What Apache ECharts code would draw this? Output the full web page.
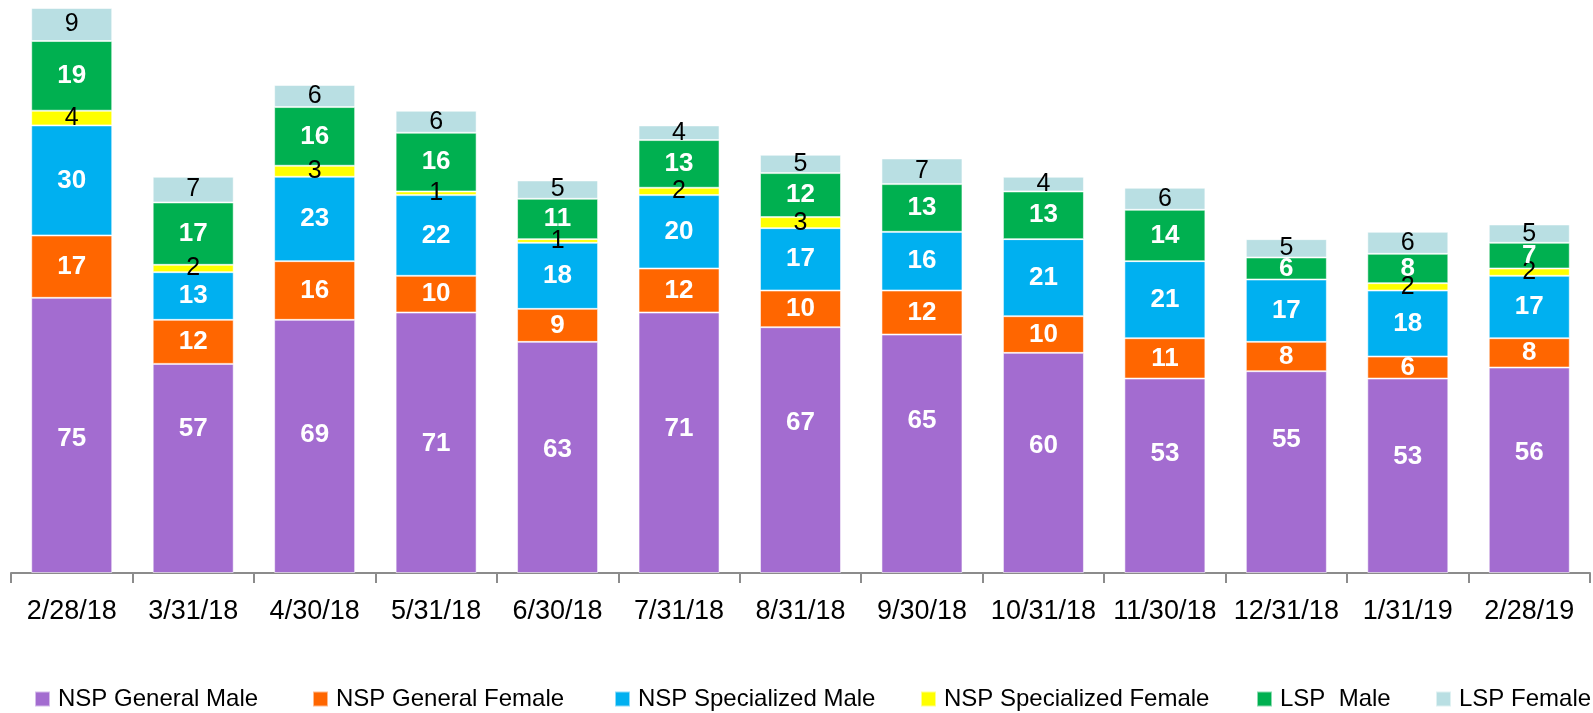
<!DOCTYPE html>
<html>
<head>
<meta charset="utf-8">
<script src="https://cdn.jsdelivr.net/npm/echarts@6/dist/echarts.min.js"></script>
<style>
  html, body { margin: 0; padding: 0; background: #fff; }
  #chart { width: 1593px; height: 713px; }
</style>
</head>
<body>
<div id="chart"></div>
<script>
// Monthly counts, stacked by program / gender
const dates = ["2/28/18", "3/31/18", "4/30/18", "5/31/18", "6/30/18", "7/31/18", "8/31/18",
  "9/30/18", "10/31/18", "11/30/18", "12/31/18", "1/31/19", "2/28/19"];
const nspGeneralMale = [75, 57, 69, 71, 63, 71, 67, 65, 60, 53, 55, 53, 56];
const nspGeneralFemale = [17, 12, 16, 10, 9, 12, 10, 12, 10, 11, 8, 6, 8];
const nspSpecializedMale = [30, 13, 23, 22, 18, 20, 17, 16, 21, 21, 17, 18, 17];
const nspSpecializedFemale = [4, 2, 3, 1, 1, 2, 3, 0, 0, 0, 0, 2, 2];
const lspMale = [19, 17, 16, 16, 11, 13, 12, 13, 13, 14, 6, 8, 7];
const lspFemale = [9, 7, 6, 6, 5, 4, 5, 7, 4, 6, 5, 6, 5];

const FONT = "'Liberation Sans', Arial, sans-serif";

// the purple labels were hand-dragged in the original; vertical nudge in px
const purpleLabelNudge = [3, -40, -12, 1, -8, -14, -27, -33, -17, -22, -32, -19, -17];

// name, values, fill, label colour, bold label
const layers = [
  ["NSP General Male", nspGeneralMale, "#A36CD0", "#fff", true],
  ["NSP General Female", nspGeneralFemale, "#FF6600", "#fff", true],
  ["NSP Specialized Male", nspSpecializedMale, "#00B0F0", "#fff", true],
  ["NSP Specialized Female", nspSpecializedFemale, "#FFFF00", "#000", false],
  ["LSP  Male", lspMale, "#00B050", "#fff", true],
  ["LSP Female", lspFemale, "#B9DFE3", "#000", false],
];
// legend entries are spread unevenly in the original, so each gets its own spot
const legendLeft = [29, 307, 609, 915, 1251, 1430];

const chart = echarts.init(document.getElementById("chart"), null, { renderer: "canvas" });

chart.setOption({
  animation: false,
  textStyle: { fontFamily: FONT },
  grid: { left: 11, right: 3, top: 8, bottom: 140, containLabel: false },
  legend: layers.map((l, i) => ({
    top: 682,
    left: legendLeft[i],
    itemWidth: 15,
    itemHeight: 15,
    icon: "rect",
    textStyle: { fontSize: 24, color: "#000", fontFamily: FONT, padding: [0, 0, 0, 3] },
    data: [l[0]],
  })),
  xAxis: {
    type: "category",
    data: dates,
    axisLine: { lineStyle: { color: "#8c8c8c", width: 2 } },
    axisTick: { show: true, length: 10, lineStyle: { color: "#8c8c8c", width: 2 } },
    axisLabel: { color: "#000", fontSize: 27, margin: 25, interval: 0, fontFamily: FONT },
  },
  yAxis: {
    type: "value",
    min: 0,
    max: 154,
    show: false,
    splitLine: { show: false },
  },
  series: layers.map(([name, values, color, labelColor, bold], si) => ({
    name,
    type: "bar",
    stack: "total",
    barWidth: 81,
    data: values.map((v, i) =>
      si === 0 ? { value: v, label: { offset: [0, purpleLabelNudge[i]] } } : v),
    itemStyle: { color, borderColor: "rgba(255,255,255,0.55)", borderWidth: 1 },
    label: {
      show: true,
      position: "inside",
      color: labelColor,
      fontSize: bold ? 26 : 25,
      fontWeight: bold ? "bold" : "normal",
      fontFamily: FONT,
      formatter: p => (p.value ? String(p.value) : ""),
    },
  })),
});
</script>
</body>
</html>
